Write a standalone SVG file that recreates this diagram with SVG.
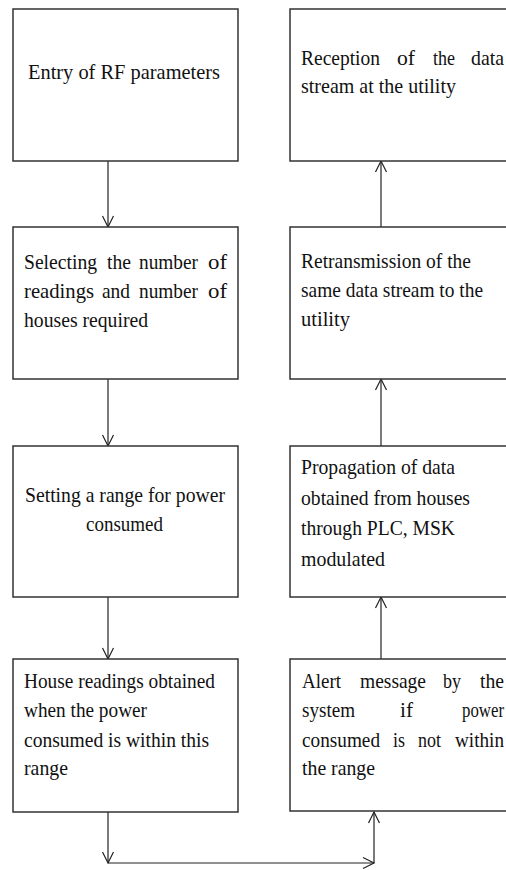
<svg xmlns="http://www.w3.org/2000/svg" width="506" height="870" viewBox="0 0 506 870">
<style>
.box{fill:#fff;stroke:#333;stroke-width:1.5}
.t{font-family:"Liberation Serif","Times New Roman",serif;font-size:22px;fill:#111}
.c{fill:none;stroke:#222;stroke-width:1.2}
</style>
<defs>
<marker id="ah" markerUnits="userSpaceOnUse" markerWidth="16" markerHeight="16" refX="0" refY="0" viewBox="-13 -8 16 16" orient="auto" overflow="visible">
<path d="M-11,-5.5 L0,0 L-11,5.5" fill="none" stroke="#222" stroke-width="1.2"/>
</marker>
</defs>
<rect width="506" height="870" fill="#fff"/>
<g id="connectors">
<line class="c" x1="108" y1="161" x2="108" y2="227" marker-end="url(#ah)"/>
<line class="c" x1="108" y1="379" x2="108" y2="446" marker-end="url(#ah)"/>
<line class="c" x1="108" y1="597" x2="108" y2="659" marker-end="url(#ah)"/>
<line class="c" x1="108" y1="812" x2="108" y2="863" marker-end="url(#ah)"/>
<line class="c" x1="108" y1="863" x2="374" y2="863" marker-end="url(#ah)"/>
<line class="c" x1="374" y1="863" x2="374" y2="812" marker-end="url(#ah)"/>
<line class="c" x1="381" y1="659" x2="381" y2="597" marker-end="url(#ah)"/>
<line class="c" x1="381" y1="446" x2="381" y2="379" marker-end="url(#ah)"/>
<line class="c" x1="381" y1="227" x2="381" y2="161" marker-end="url(#ah)"/>
</g>
<g id="n1">
<rect class="box" x="13" y="9" width="225" height="152"/>
<text class="t" x="28" y="79" textLength="192" lengthAdjust="spacingAndGlyphs">Entry of RF parameters</text>
</g>
<g id="n2">
<rect class="box" x="13" y="227" width="225" height="152"/>
<text class="t" x="24" y="269" textLength="73" lengthAdjust="spacingAndGlyphs">Selecting</text>
<text class="t" x="107" y="269" textLength="24" lengthAdjust="spacingAndGlyphs">the</text>
<text class="t" x="139" y="269" textLength="59" lengthAdjust="spacingAndGlyphs">number</text>
<text class="t" x="208" y="269" textLength="19" lengthAdjust="spacingAndGlyphs">of</text>
<text class="t" x="24" y="298" textLength="70" lengthAdjust="spacingAndGlyphs">readings</text>
<text class="t" x="102" y="298" textLength="28" lengthAdjust="spacingAndGlyphs">and</text>
<text class="t" x="139" y="298" textLength="59" lengthAdjust="spacingAndGlyphs">number</text>
<text class="t" x="208" y="298" textLength="19" lengthAdjust="spacingAndGlyphs">of</text>
<text class="t" x="24" y="327" textLength="124" lengthAdjust="spacingAndGlyphs">houses required</text>
</g>
<g id="n3">
<rect class="box" x="13" y="446" width="225" height="151"/>
<text class="t" x="25" y="502" textLength="200" lengthAdjust="spacingAndGlyphs">Setting a range for power</text>
<text class="t" x="86" y="531" textLength="77" lengthAdjust="spacingAndGlyphs">consumed</text>
</g>
<g id="n4">
<rect class="box" x="13" y="659" width="225" height="153"/>
<text class="t" x="24" y="688" textLength="191" lengthAdjust="spacingAndGlyphs">House readings obtained</text>
<text class="t" x="24" y="717" textLength="123" lengthAdjust="spacingAndGlyphs">when the power</text>
<text class="t" x="24" y="747" textLength="185" lengthAdjust="spacingAndGlyphs">consumed is within this</text>
<text class="t" x="24" y="775" textLength="44" lengthAdjust="spacingAndGlyphs">range</text>
</g>
<g id="n5">
<rect class="box" x="290" y="9" width="230" height="152"/>
<text class="t" x="301" y="65" textLength="79" lengthAdjust="spacingAndGlyphs">Reception</text>
<text class="t" x="397" y="65" textLength="18" lengthAdjust="spacingAndGlyphs">of</text>
<text class="t" x="433" y="65" textLength="22" lengthAdjust="spacingAndGlyphs">the</text>
<text class="t" x="471" y="65" textLength="33" lengthAdjust="spacingAndGlyphs">data</text>
<text class="t" x="301" y="93" textLength="155" lengthAdjust="spacingAndGlyphs">stream at the utility</text>
</g>
<g id="n6">
<rect class="box" x="290" y="227" width="230" height="152"/>
<text class="t" x="301" y="268" textLength="170" lengthAdjust="spacingAndGlyphs">Retransmission of the</text>
<text class="t" x="301" y="297" textLength="182" lengthAdjust="spacingAndGlyphs">same data stream to the</text>
<text class="t" x="301" y="326" textLength="49" lengthAdjust="spacingAndGlyphs">utility</text>
</g>
<g id="n7">
<rect class="box" x="290" y="446" width="230" height="151"/>
<text class="t" x="301" y="474" textLength="154" lengthAdjust="spacingAndGlyphs">Propagation of data</text>
<text class="t" x="301" y="505" textLength="169" lengthAdjust="spacingAndGlyphs">obtained from houses</text>
<text class="t" x="301" y="535" textLength="154" lengthAdjust="spacingAndGlyphs">through PLC, MSK</text>
<text class="t" x="301" y="566" textLength="84" lengthAdjust="spacingAndGlyphs">modulated</text>
</g>
<g id="n8">
<rect class="box" x="290" y="659" width="230" height="152"/>
<text class="t" x="302" y="688" textLength="39" lengthAdjust="spacingAndGlyphs">Alert</text>
<text class="t" x="360" y="688" textLength="66" lengthAdjust="spacingAndGlyphs">message</text>
<text class="t" x="443" y="688" textLength="18" lengthAdjust="spacingAndGlyphs">by</text>
<text class="t" x="480" y="688" textLength="24" lengthAdjust="spacingAndGlyphs">the</text>
<text class="t" x="302" y="717" textLength="53" lengthAdjust="spacingAndGlyphs">system</text>
<text class="t" x="400" y="717" textLength="13" lengthAdjust="spacingAndGlyphs">if</text>
<text class="t" x="462" y="717" textLength="42" lengthAdjust="spacingAndGlyphs">power</text>
<text class="t" x="302" y="747" textLength="78" lengthAdjust="spacingAndGlyphs">consumed</text>
<text class="t" x="393" y="747" textLength="12" lengthAdjust="spacingAndGlyphs">is</text>
<text class="t" x="418" y="747" textLength="23" lengthAdjust="spacingAndGlyphs">not</text>
<text class="t" x="455" y="747" textLength="49" lengthAdjust="spacingAndGlyphs">within</text>
<text class="t" x="302" y="775" textLength="73" lengthAdjust="spacingAndGlyphs">the range</text>
</g>
</svg>
